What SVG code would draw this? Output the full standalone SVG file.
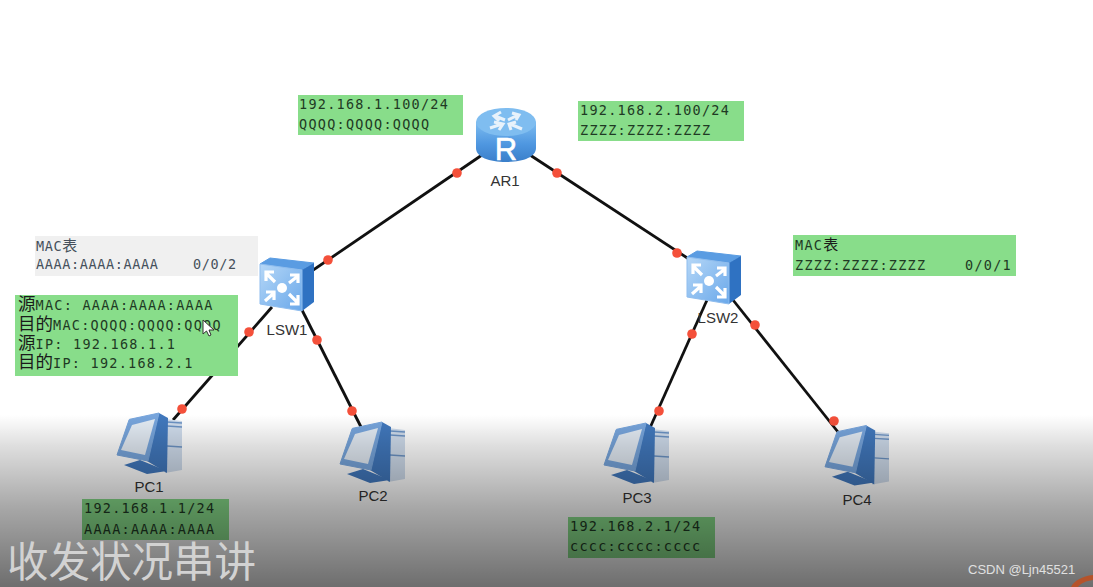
<svg xmlns="http://www.w3.org/2000/svg" width="1093" height="587" viewBox="0 0 1093 587">
<style>
.box{fill:#88dd8a}
.m{font-family:"DejaVu Sans Mono","Liberation Mono",monospace;font-size:13.5px;letter-spacing:1.25px;fill:#1f3a24}
.n{letter-spacing:.62px;fill:#46505c}
.c{font-family:"Noto Sans CJK SC",sans-serif;font-size:17.5px;letter-spacing:0;fill:#1a1a1a}
.l{font-family:"Liberation Sans",Arial,sans-serif;font-size:15px;fill:#333;text-anchor:middle}
.w{stroke:#111;stroke-width:2.8;fill:none}
.d{fill:#f4503a}
</style>
<defs>
<linearGradient id="fade" x1="0" y1="415" x2="0" y2="587" gradientUnits="userSpaceOnUse">
<stop offset="0" stop-color="#000" stop-opacity="0"/>
<stop offset=".18" stop-color="#000" stop-opacity=".13"/>
<stop offset=".55" stop-color="#000" stop-opacity=".35"/>
<stop offset="1" stop-color="#000" stop-opacity=".57"/>
</linearGradient>
<linearGradient id="rb" x1="0" y1="0" x2="0" y2="1"><stop offset="0" stop-color="#7dbcf0"/><stop offset=".55" stop-color="#4f97e0"/><stop offset="1" stop-color="#3a7fca"/></linearGradient>
<linearGradient id="sf" x1="0" y1="0" x2="1" y2="1"><stop offset="0" stop-color="#b5d7f7"/><stop offset="1" stop-color="#6aa8ea"/></linearGradient>
<symbol id="pc" viewBox="0 0 65 61" overflow="visible">
<path d="M48 6L65 8V57L48 60Z" fill="#cfdcec"/>
<path d="M50 9L65 10M50 13L65 14M50 33L65 34" stroke="#6c93c4" stroke-width="1.3"/>
<path d="M42 0L51 5L50 60L30 48Z" fill="#4178bd"/>
<path d="M7 52L23 47L50 58L30 61Z" fill="#4178bd"/>
<path d="M12 7Q12 6 14 6L42 0L31 48L0 42Z" fill="#77a5dc" stroke="#77a5dc" stroke-linejoin="round"/>
<path d="M15 12L38 6L28 42L4 37Z" fill="#e3ebf4"/>
</symbol>
<symbol id="sw" viewBox="0 0 54 53" overflow="visible">
<path d="M0 6L10 0L54 5L42 12Z" fill="#5a9ce2" stroke="#5a9ce2" stroke-linejoin="round"/>
<path d="M42 12L54 5V44L42 53Z" fill="#2f72c2"/>
<path d="M0 6L42 12V53L0 46Z" fill="url(#sf)" stroke="#8fbdee" stroke-linejoin="round"/>
<circle cx="22" cy="30" r="5" fill="#fff"/>
<g stroke="#fff" stroke-width="3.2" fill="none">
<path d="M6 15L15 24M6 23V14H14"/><path d="M38 18L29 25M30 17H38V25"/>
<path d="M5 43L14 35M6 34H14V42"/><path d="M38 45L29 36M38 37V46H30"/>
</g>
</symbol>
</defs>
<rect width="1093" height="587" fill="#fff"/>
<g id="connectors">
<path class="w" d="M482 155L300 279"/>
<path class="w" d="M530 155L695 263"/>
<path class="w" d="M272 307L173 420"/>
<path class="w" d="M301 308L361 427"/>
<path class="w" d="M707 300L649 430"/>
<path class="w" d="M733 300L838 432"/>
<g class="d">
<circle cx="457" cy="173" r="4.8"/><circle cx="328" cy="260" r="4.8"/>
<circle cx="557" cy="173" r="4.8"/><circle cx="677" cy="253" r="4.8"/>
<circle cx="249" cy="332" r="4.8"/><circle cx="182" cy="409" r="4.8"/>
<circle cx="317" cy="340" r="4.8"/><circle cx="352" cy="411" r="4.8"/>
<circle cx="692" cy="334" r="4.8"/><circle cx="659" cy="411" r="4.8"/>
<circle cx="755" cy="325" r="4.8"/><circle cx="834" cy="421" r="4.8"/>
</g>
</g>
<g id="AR1">
<path d="M476 122V148C476 157 489 162 506 162S536 157 536 148V122Z" fill="url(#rb)"/>
<ellipse cx="506" cy="122" rx="30" ry="14" fill="#7fbdf0"/>
<g stroke="#e8f2fb" stroke-width="3" fill="none"><path d="M495 116L505 120M501 112L494 116L499 121"/><path d="M518 115L508 120M512 113L519 115L516 120"/><path d="M490 128L502 124M494 122L503 124L499 130"/><path d="M522 129L510 124M511 130L509 124L516 122"/></g>
<text x="506" y="160" font-family="Liberation Sans,Arial,sans-serif" font-size="31" fill="#fff" stroke="#fff" stroke-width=".6" text-anchor="middle">R</text>
<text class="l" x="505" y="186">AR1</text>
</g>
<g id="LSW1"><use href="#sw" x="260" y="258" width="54" height="53"/><text class="l" x="287" y="335">LSW1</text></g>
<g id="LSW2"><use href="#sw" x="687" y="251" width="54" height="53"/><text class="l" x="718" y="323">LSW2</text></g>
<g id="PC1"><use href="#pc" x="117" y="413" width="65" height="61"/><text class="l" x="149" y="492">PC1</text></g>
<g id="PC2"><use href="#pc" x="340" y="422" width="65" height="61"/><text class="l" x="373" y="501">PC2</text></g>
<g id="PC3"><use href="#pc" x="604" y="423" width="65" height="61"/><text class="l" x="637" y="503">PC3</text></g>
<g id="PC4"><use href="#pc" x="825" y="425" width="64" height="61"/><text class="l" x="857" y="505">PC4</text></g>
<g id="label-ar1-left"><rect class="box" x="298" y="95" width="165" height="40"/><text class="m" x="299" y="109">192.168.1.100/24</text><text class="m" x="299" y="129">QQQQ:QQQQ:QQQQ</text></g>
<g id="label-ar1-right"><rect class="box" x="578" y="101" width="166" height="40"/><text class="m" x="580" y="115">192.168.2.100/24</text><text class="m" x="580" y="135">ZZZZ:ZZZZ:ZZZZ</text></g>
<g id="mac-lsw1"><rect x="35" y="236" width="223" height="40" fill="#f0f0f0"/><text class="m n" x="36" y="251">MAC<tspan class="c" font-size="15" style="font-size:15px;fill:#46505c">表</tspan></text><text class="m n" x="36" y="269">AAAA:AAAA:AAAA</text><text class="m n" x="193" y="269">0/0/2</text></g>
<g id="mac-lsw2"><rect class="box" x="793" y="235" width="223" height="41"/><text class="m" x="795" y="250">MAC<tspan class="c" style="font-size:15px">表</tspan></text><text class="m" x="795" y="270">ZZZZ:ZZZZ:ZZZZ</text><text class="m" x="965" y="270">0/0/1</text></g>
<g id="packet">
<rect class="box" x="15" y="295" width="223" height="81"/>
<text class="m" x="18" y="310"><tspan class="c">源</tspan>MAC: AAAA:AAAA:AAAA</text>
<text class="m" x="18" y="330"><tspan class="c">目的</tspan>MAC:QQQQ:QQQQ:QQQQ</text>
<text class="m" x="18" y="349"><tspan class="c">源</tspan>IP: 192.168.1.1</text>
<text class="m" x="18" y="368"><tspan class="c">目的</tspan>IP: 192.168.2.1</text>
</g>
<g id="label-pc1"><rect class="box" x="82" y="499" width="147" height="41"/><text class="m" x="84" y="513">192.168.1.1/24</text><text class="m" x="84" y="534">AAAA:AAAA:AAAA</text></g>
<g id="label-pc3"><rect class="box" x="568" y="517" width="147" height="41"/><text class="m" x="570" y="531">192.168.2.1/24</text><text class="m" x="570" y="551">cccc:cccc:cccc</text></g>
<path id="cursor" d="M203 320V334L206.500 331L209 336L211 335L209 330H214Z" fill="#fff" stroke="#333" stroke-width="1"/>
<rect id="shade" y="415" width="1093" height="172" fill="url(#fade)"/>
<text x="7" y="577" font-family="Noto Sans CJK SC,sans-serif" font-size="41.500" fill="#d2d2d2">收发状况串讲</text>
<text x="968" y="574" font-family="Liberation Sans,Arial,sans-serif" font-size="13" fill="#e0e0e0">CSDN @Ljn45521</text>
<path d="M1093 575C1082 576 1074 581 1071 587H1078C1081 583 1086 581 1093 580Z" fill="#b5532a"/>
</svg>
